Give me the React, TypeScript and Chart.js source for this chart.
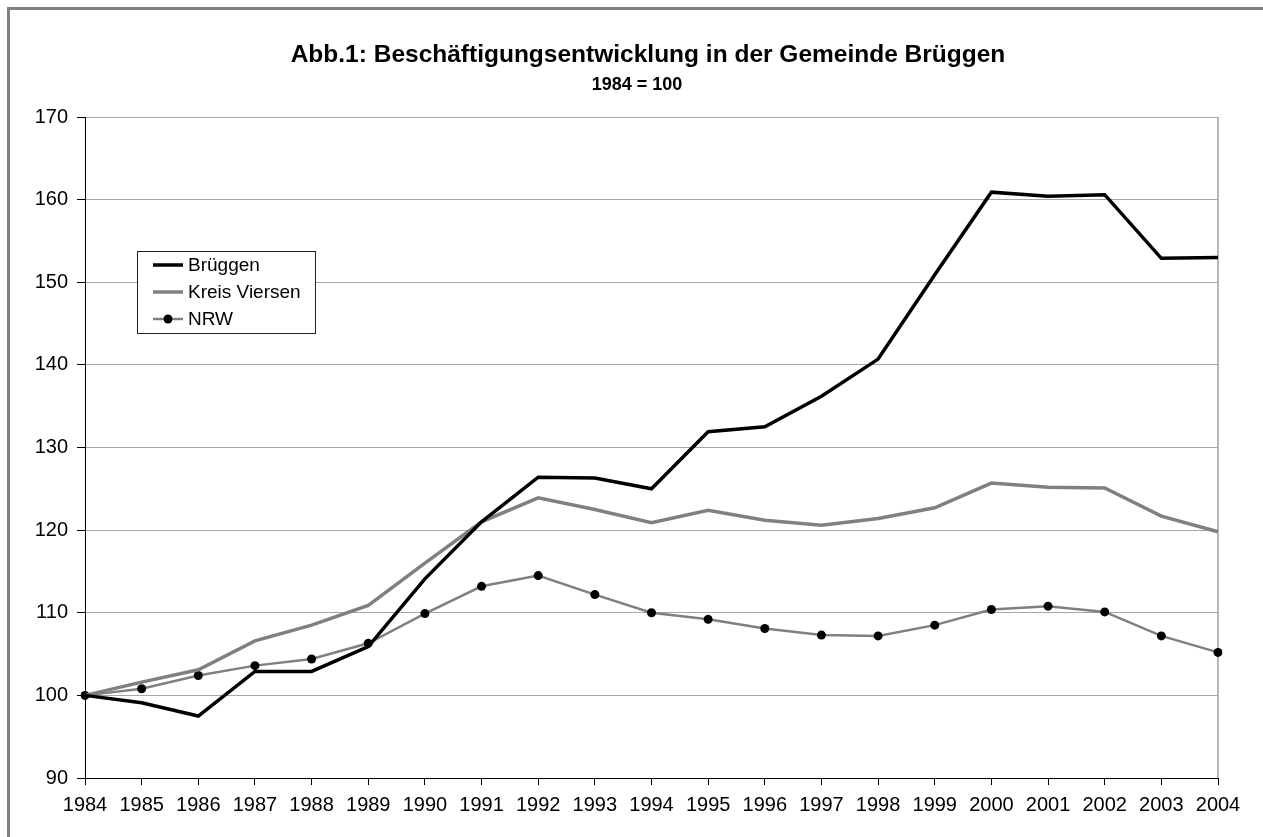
import React, { useEffect, useRef } from "react";
import { Chart, registerables } from "chart.js";

Chart.register(...registerables);

const years = ["1984","1985","1986","1987","1988","1989","1990","1991","1992","1993","1994","1995","1996","1997","1998","1999","2000","2001","2002","2003","2004"];
const brueggen = [100, 99.1, 97.5, 102.9, 102.9, 105.9, 114.1, 121.0, 126.4, 126.3, 125.0, 131.9, 132.5, 136.2, 140.7, 150.9, 160.9, 160.4, 160.6, 152.9, 153.0];
const kreisViersen = [100, 101.6, 103.1, 106.6, 108.5, 110.9, 116.0, 121.0, 123.9, 122.5, 120.9, 122.4, 121.2, 120.6, 121.4, 122.7, 125.7, 125.2, 125.1, 121.7, 119.8];
const nrw = [100, 100.8, 102.4, 103.6, 104.4, 106.3, 109.9, 113.2, 114.5, 112.2, 110.0, 109.2, 108.1, 107.3, 107.2, 108.5, 110.4, 110.8, 110.1, 107.2, 105.2];
const titleText = "Abb.1: Beschäftigungsentwicklung in der Gemeinde Brüggen";
const subtitleText = "1984 = 100";

const FONT = "'Liberation Sans', Arial, Helvetica, sans-serif";

const decorPlugin = {
  id: "decor",
  beforeDatasetsDraw(chart: any) {
    const { ctx, chartArea } = chart;
    ctx.save();
    ctx.strokeStyle = "#a0a0a0";
    ctx.lineWidth = 1.5;
    ctx.beginPath();
    ctx.moveTo(chartArea.right, chartArea.top);
    ctx.lineTo(chartArea.right, chartArea.bottom);
    ctx.stroke();
    ctx.restore();
  },
  afterDraw(chart: any) {
    const { ctx } = chart;
    ctx.save();
    // Title
    ctx.fillStyle = "#000";
    ctx.textAlign = "center";
    ctx.textBaseline = "alphabetic";
    ctx.font = `bold 24.5px ${FONT}`;
    ctx.fillText(titleText, 648, 62);
    ctx.font = `bold 18px ${FONT}`;
    ctx.fillText(subtitleText, 637, 90);

    // Legend
    const lx = 137, ly = 251, lw = 178, lh = 82;
    ctx.fillStyle = "#fff";
    ctx.fillRect(lx, ly, lw, lh);
    ctx.strokeStyle = "#222";
    ctx.lineWidth = 1;
    ctx.strokeRect(lx + 0.5, ly + 0.5, lw, lh);
    const rows = [265, 292, 319];
    chart.data.datasets.forEach((ds: any, i: number) => {
      const y = rows[i];
      ctx.strokeStyle = ds.borderColor;
      ctx.lineWidth = ds.borderWidth;
      ctx.beginPath();
      ctx.moveTo(153, y);
      ctx.lineTo(183, y);
      ctx.stroke();
      if (ds.pointRadius > 0) {
        ctx.fillStyle = ds.pointBackgroundColor;
        ctx.beginPath();
        ctx.arc(168, y, ds.pointRadius, 0, Math.PI * 2);
        ctx.fill();
      }
      ctx.fillStyle = "#000";
      ctx.font = `19px ${FONT}`;
      ctx.textAlign = "left";
      ctx.textBaseline = "middle";
      ctx.fillText(ds.label, 188, y + 1);
    });
    ctx.restore();
  },
};

export default function App() {
  const canvasRef = useRef<HTMLCanvasElement | null>(null);

  useEffect(() => {
    if (!canvasRef.current) return;
    const chart = new Chart(canvasRef.current, {
      type: "line",
      data: {
        labels: years,
        datasets: [
          {
            label: "Brüggen",
            data: brueggen,
            borderColor: "#000000",
            backgroundColor: "#000000",
            borderWidth: 3.5,
            pointRadius: 0,
            tension: 0,
          },
          {
            label: "Kreis Viersen",
            data: kreisViersen,
            borderColor: "#808080",
            backgroundColor: "#808080",
            borderWidth: 3.5,
            pointRadius: 0,
            tension: 0,
          },
          {
            label: "NRW",
            data: nrw,
            borderColor: "#808080",
            backgroundColor: "#000000",
            borderWidth: 2.5,
            pointRadius: 4.5,
            pointBackgroundColor: "#000000",
            pointBorderColor: "#000000",
            pointBorderWidth: 0,
            tension: 0,
          },
        ],
      },
      options: {
        responsive: false,
        animation: false,
        layout: { padding: { left: 0, top: 117, right: 45, bottom: 0 } },
        plugins: {
          legend: { display: false },
          title: { display: false },
          tooltip: { enabled: false },
        },
        scales: {
          x: {
            type: "category",
            offset: false,
            afterFit: (s: any) => { s.height = 59; },
            grid: {
              display: true,
              drawOnChartArea: false,
              drawTicks: true,
              tickLength: 7,
              tickColor: "#000",
              lineWidth: 1,
            },
            border: { display: true, color: "#000", width: 1 },
            ticks: {
              color: "#000",
              font: { family: FONT, size: 20 },
              padding: 8,
              maxRotation: 0,
              autoSkip: false,
            },
          },
          y: {
            min: 90,
            max: 170,
            afterFit: (s: any) => { s.width = 85; },
            grid: {
              color: "#a6a6a6",
              lineWidth: 1,
              drawTicks: true,
              tickLength: 8,
              tickColor: "#000",
            },
            border: { display: true, color: "#000", width: 1 },
            ticks: {
              stepSize: 10,
              color: "#000",
              font: { family: FONT, size: 20 },
              padding: 9,
            },
          },
        },
      },
      plugins: [decorPlugin],
    });
    return () => chart.destroy();
  }, []);

  return (
    <div style={{ position: "absolute", left: 0, top: 0, width: 1263, height: 837, overflow: "hidden", background: "#fff" }}>
      <div style={{ position: "absolute", left: 7, top: 7, width: 1300, height: 900, borderLeft: "3px solid #808080", borderTop: "3px solid #808080" }} />
      <canvas ref={canvasRef} width={1263} height={837} style={{ position: "absolute", left: 0, top: 0, display: "block" }} />
    </div>
  );
}
